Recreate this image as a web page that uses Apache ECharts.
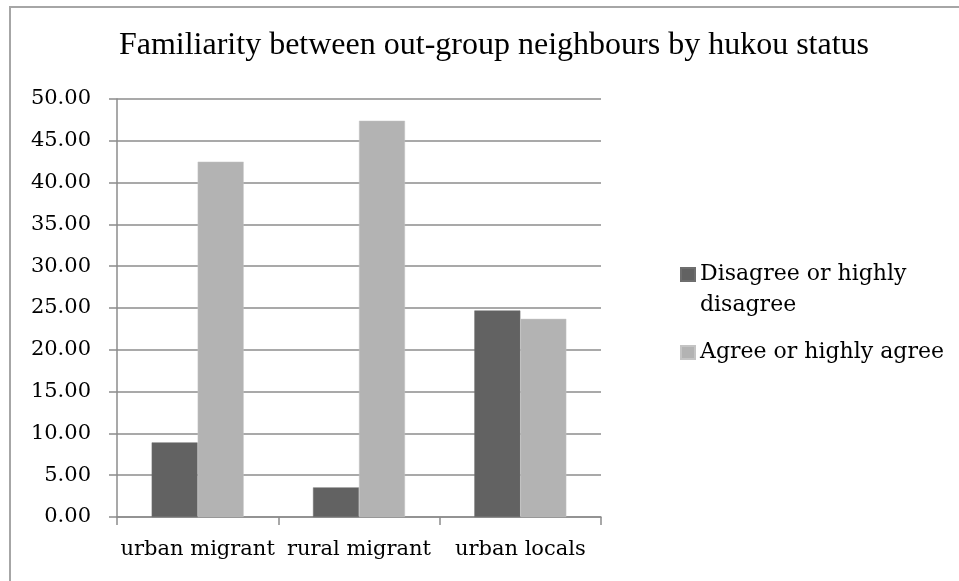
<!DOCTYPE html>
<html>
<head>
<meta charset="utf-8">
<script src="https://cdn.jsdelivr.net/npm/echarts@6/dist/echarts.min.js"></script>
<style>
  html, body { margin: 0; padding: 0; background: #ffffff; }
  #chart { width: 959px; height: 581px; }
</style>
</head>
<body>
<div id="chart"></div>
<script>
// Hukou status groups along the x axis
var categories = ['urban migrant', 'rural migrant', 'urban locals'];

// Share of respondents (%) per answer
var disagreeValues = [8.92, 3.54, 24.70];
var agreeValues = [42.50, 47.40, 23.70];

var seriesNames = ['Disagree or highly\ndisagree', 'Agree or highly agree'];

// Value axis ticks
var yMin = 0;
var yMax = 50;
var yStep = 5;

var labelFont = 'DejaVu Serif';
var labelSize = 21;
var gridGray = '#8c8c8c';

var chart = echarts.init(document.getElementById('chart'), null, { renderer: 'canvas' });

// One legend block per series so each can be placed on its own.
// A wrapped name gets a blank leading line, which keeps the swatch
// level with the first line of text.
function legendBlock(name, top) {
  return {
    orient: 'vertical',
    left: 675,
    top: top,
    itemWidth: 14,
    itemHeight: 13,
    itemGap: 0,
    icon: 'rect',
    data: [name],
    formatter: function (n) {
      return n.indexOf('\n') >= 0 ? ' \n' + n : n;
    },
    textStyle: {
      fontFamily: labelFont,
      fontSize: 22,
      color: '#000000',
      lineHeight: 31
    }
  };
}

chart.setOption({
  backgroundColor: '#ffffff',
  animation: false,
  title: {
    text: 'Familiarity between out-group neighbours by hukou status',
    left: 489,
    textAlign: 'center',
    top: 25,
    textStyle: {
      fontFamily: 'Liberation Serif',
      fontWeight: 'normal',
      fontSize: 32,
      color: '#000000'
    }
  },
  graphic: [{
    type: 'rect',
    silent: true,
    shape: { x: 10, y: 7, width: 980, height: 600 },
    style: { fill: 'none', stroke: '#a6a6a6', lineWidth: 2 }
  }],
  legend: [
    legendBlock(seriesNames[0], 223),
    legendBlock(seriesNames[1], 332)
  ],
  grid: {
    left: 117,
    right: 358,
    top: 99,
    bottom: 64,
    containLabel: false
  },
  xAxis: {
    type: 'category',
    data: categories,
    axisLine: { lineStyle: { color: gridGray, width: 1.5 } },
    axisTick: { show: true, length: 8, lineStyle: { color: gridGray, width: 1.5 } },
    axisLabel: {
      interval: 0,
      hideOverlap: false,
      fontFamily: labelFont,
      fontSize: labelSize,
      color: '#000000',
      margin: 22
    }
  },
  yAxis: {
    type: 'value',
    min: yMin,
    max: yMax,
    interval: yStep,
    axisLine: { show: true, lineStyle: { color: gridGray, width: 1.5 } },
    axisTick: { show: true, length: 8, lineStyle: { color: gridGray, width: 1.5 } },
    splitLine: { lineStyle: { color: gridGray, width: 1.5 } },
    axisLabel: {
      fontFamily: labelFont,
      fontSize: labelSize,
      color: '#000000',
      margin: 26,
      formatter: function (v) { return v.toFixed(2); }
    }
  },
  series: [
    {
      name: seriesNames[0],
      type: 'bar',
      data: disagreeValues,
      barGap: '0%',
      barCategoryGap: '43%',
      itemStyle: { color: '#626262', borderColor: '#6e6e6e', borderWidth: 0.5 }
    },
    {
      name: seriesNames[1],
      type: 'bar',
      data: agreeValues,
      barGap: '0%',
      barCategoryGap: '43%',
      itemStyle: { color: '#b3b3b3', borderColor: '#c4c4c4', borderWidth: 0.5 }
    }
  ]
});
</script>
</body>
</html>
